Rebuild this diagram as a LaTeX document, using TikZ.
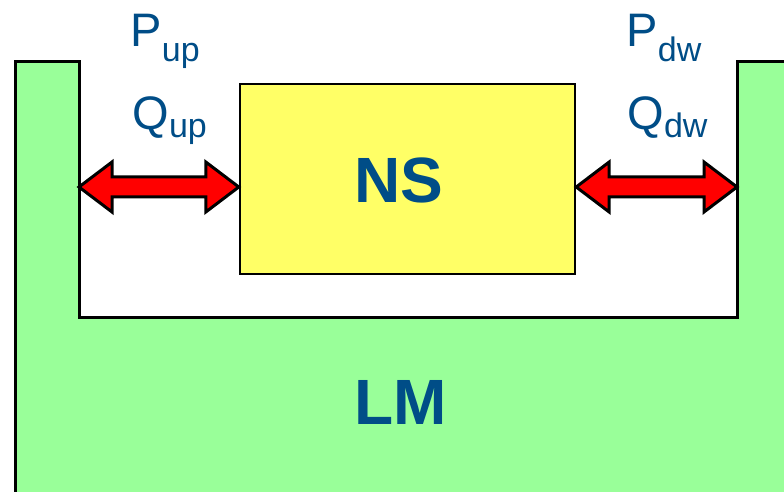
\documentclass[tikz,border=0pt]{standalone}
\usepackage{fontspec}
\setmainfont{Liberation Sans}
\usetikzlibrary{calc}
\definecolor{LeafGreen}{HTML}{99FF99}
\definecolor{Lemon}{HTML}{FFFF66}
\definecolor{InkBlue}{HTML}{004D87}
\definecolor{PureRed}{HTML}{FF0000}

% symbol with lowered subscript
\newcommand{\flowlbl}[3]{{\fontsize{23.5}{24}\selectfont #1}\raisebox{-#3}{\fontsize{17}{17}\selectfont #2}}
% fat double arrow between two points
\newcommand{\fatarrow}[2]{%
  \draw[fill=PureRed,line join=miter] (#1) -- ($(#1)+(33,-25)$) -- ($(#1)+(33,-10)$) -- ($(#2)+(-33,-10)$)
    -- ($(#2)+(-33,-25)$) -- (#2) -- ($(#2)+(-33,25)$) -- ($(#2)+(-33,10)$) -- ($(#1)+(33,10)$)
    -- ($(#1)+(33,25)$) -- cycle;}

\begin{document}
\begin{tikzpicture}[x=0.5pt,y=-0.5pt,line width=1.5pt,every node/.style={text=InkBlue,inner sep=0pt}]
  \useasboundingbox (0,0) rectangle (784,492);
  \clip (0,0) rectangle (784,492);
  % ground (LM)
  \draw[fill=LeafGreen] (15,520) -- (15,62) -- (79,62) -- (79,318) -- (737,318) -- (737,62) -- (820,62) -- (820,520);
  \node[font=\fontsize{32}{32}\selectfont\bfseries] (lm) at (401,402) {LM};
  % NS box
  \node[draw,line width=1.2pt,fill=Lemon,minimum width=167.5pt,minimum height=95pt] (ns) at (407.5,179) {};
  \node[font=\fontsize{32}{32}\selectfont\bfseries] (nstxt) at (399,180) {NS};
  \coordinate (wallL) at (79,187);
  \coordinate (wallR) at (737,187);
  \coordinate (nsL) at (ns.west |- wallL);
  \coordinate (nsR) at (ns.east |- wallR);
  \fatarrow{wallL}{nsL}
  \fatarrow{nsR}{wallR}
  % flows
  \node[anchor=base west] (pup) at (129,47) {\flowlbl{P}{up}{7.5pt}};
  \node[anchor=base west] (qup) at (131,130) {\flowlbl{Q}{up}{4pt}};
  \node[anchor=base west] (pdw) at (625,47) {\flowlbl{P}{dw}{7.5pt}};
  \node[anchor=base west] (qdw) at (626,130) {\flowlbl{Q}{dw}{4pt}};
\end{tikzpicture}
\end{document}
